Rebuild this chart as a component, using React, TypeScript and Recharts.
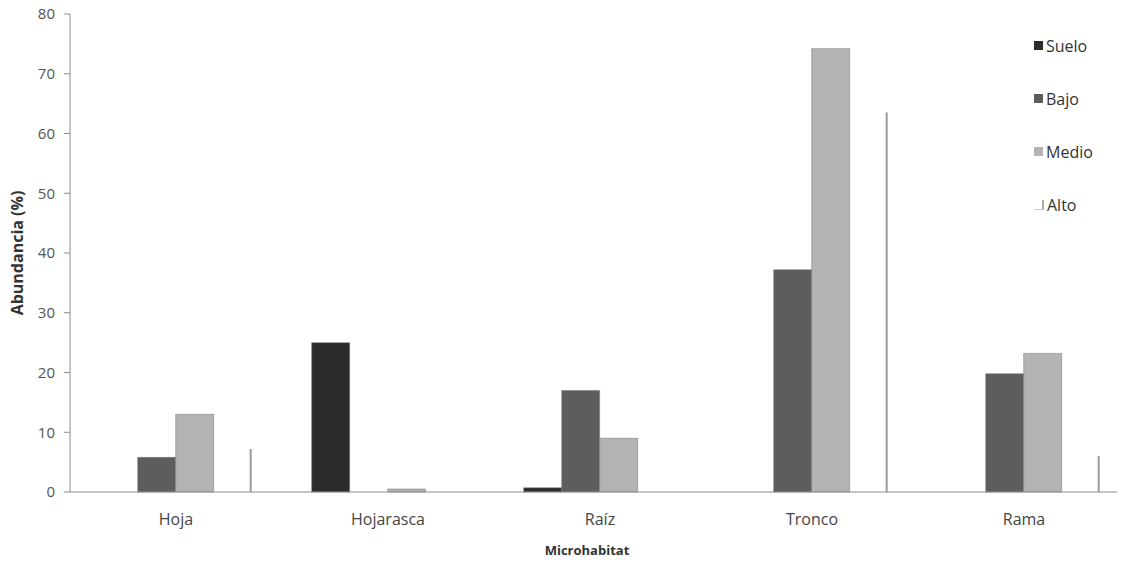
import React from 'react'
import { BarChart, Bar, XAxis, YAxis, Legend } from 'recharts'

const categories = ['Hoja', 'Hojarasca', 'Raíz', 'Tronco', 'Rama']
const suelo = [0, 25, 0.7, 0, 0]
const bajo = [5.8, 0, 17, 37.2, 19.8]
const medio = [13, 0.5, 9, 74.2, 23.2]
const alto = [7.2, 0, 0, 63.5, 6]
const yTicks = [0, 10, 20, 30, 40, 50, 60, 70, 80]

const series = [
  { key: 'Suelo', values: suelo, color: '#2b2b2b' },
  { key: 'Bajo', values: bajo, color: '#5d5d5d' },
  { key: 'Medio', values: medio, color: '#b3b3b3' },
  { key: 'Alto', values: alto, color: '#ffffff' },
]

const data = categories.map((name, i) => {
  const row: any = { name }
  series.forEach((s) => { row[s.key] = s.values[i] })
  return row
})

const font = '"Open Sans", "DejaVu Sans", sans-serif'

// Alto bars are white in the original, only their right edge shows
function AltoShape(props: any) {
  const { x, y, width, height } = props
  if (!height || height <= 0) return null
  return (
    <line x1={x + width - 1} y1={y} x2={x + width - 1} y2={y + height} stroke="#9a9a9a" strokeWidth={2} />
  )
}

function LegendBox() {
  return (
    <div style={{ fontFamily: font, fontSize: 16, color: '#333' }}>
      {series.map((s) => (
        <div key={s.key} style={{ display: 'flex', alignItems: 'center', height: 53 }}>
          {s.key === 'Alto' ? (
            <span style={{ width: 8, height: 9, borderRight: '2px solid #aaa', borderBottom: '1px solid #ccc', marginRight: 3 }} />
          ) : (
            <span style={{ width: 9, height: 9, background: s.color, marginRight: 3 }} />
          )}
          {s.key}
        </div>
      ))}
    </div>
  )
}

export default function App() {
  return (
    <div style={{ margin: -8, width: 1125, height: 563, overflow: 'hidden', background: '#fff' }}>
      <BarChart
        width={1135}
        height={563}
        data={data}
        margin={{ top: 14, right: 5, left: 8, bottom: 0 }}
        barCategoryGap="14%"
        barGap={0}
      >
        <XAxis
          dataKey="name"
          height={71}
          tickLine={false}
          axisLine={{ stroke: '#8c8c8c' }}
          tick={{ fill: '#444', fontSize: 16, fontFamily: font }}
          tickMargin={16}
          label={{ value: 'Microhabitat', position: 'insideBottom', offset: 8, dx: -13, style: { fontFamily: font, fontSize: 13, fontWeight: 700, fill: '#333' } }}
        />
        <YAxis
          width={62}
          domain={[0, 80]}
          ticks={yTicks}
          interval={0}
          tickSize={6}
          tickMargin={9}
          tickLine={{ stroke: '#8c8c8c' }}
          axisLine={{ stroke: '#8c8c8c' }}
          tick={{ fill: '#555', fontSize: 15, fontFamily: font }}
          label={{ value: 'Abundancia (%)', angle: -90, position: 'insideLeft', offset: 9, style: { textAnchor: 'middle', fontFamily: font, fontSize: 16, fontWeight: 700, fill: '#333' } }}
        />
        <Legend
          layout="vertical"
          align="center"
          verticalAlign="middle"
          content={<LegendBox />}
          wrapperStyle={{ left: 1034, top: 19, width: 90, height: 220 }}
        />
        {series.map((s) => (
          <Bar
            key={s.key}
            dataKey={s.key}
            fill={s.color}
            stroke={s.key === 'Alto' ? 'none' : '#777'}
            strokeWidth={s.key === 'Alto' ? 0 : 0.5}
            shape={s.key === 'Alto' ? AltoShape : undefined}
            isAnimationActive={false}
          />
        ))}
      </BarChart>
    </div>
  )
}
